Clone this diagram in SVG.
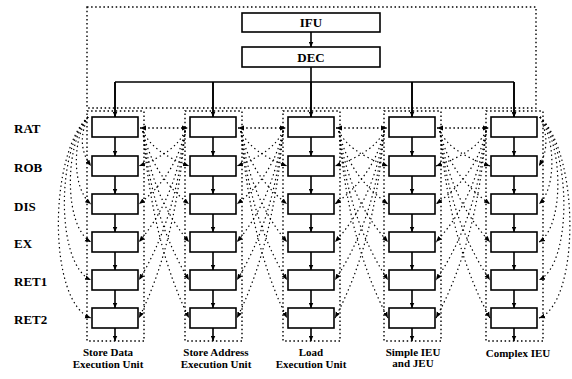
<svg xmlns="http://www.w3.org/2000/svg" width="572" height="379" viewBox="0 0 572 379">
<style>
.box{fill:#fff;stroke:#000;stroke-width:1.6}
.dot{fill:none;stroke:#000;stroke-width:1.4;stroke-dasharray:1.5 2.6}
.sol{fill:none;stroke:#000;stroke-width:1.6}
.fan{fill:none;stroke:#000;stroke-width:1.2;stroke-dasharray:1.4 3}
.t{font-family:"Liberation Serif","Times New Roman",serif;font-weight:bold;fill:#000}
.lbl{font-size:13px}
.bl{font-size:11px;text-anchor:middle}
.ct{font-size:13px;text-anchor:middle}
</style>
<defs>
<marker id="ah" viewBox="0 0 10 10" refX="10" refY="5" markerWidth="5" markerHeight="5" markerUnits="userSpaceOnUse" orient="auto"><path d="M0,0.5 L10,5 L0,9.5 z" fill="#000"/></marker>
<marker id="dh" viewBox="0 0 10 10" refX="10" refY="5" markerWidth="6" markerHeight="6" markerUnits="userSpaceOnUse" orient="auto-start-reverse"><path d="M0,1 L10,5 L0,9 z" fill="#000"/></marker>
</defs>

<!-- frames -->
<g id="frames">
<rect class="dot" x="87" y="7" width="449" height="101"/>
<rect class="dot" x="87" y="111" width="57" height="230"/>
<rect class="dot" x="185" y="111" width="57" height="230"/>
<rect class="dot" x="283" y="111" width="57" height="230"/>
<rect class="dot" x="384" y="111" width="57" height="230"/>
<rect class="dot" x="486" y="111" width="57" height="230"/>
</g>

<g id="ifu"><rect class="box" x="242" y="13" width="138" height="19"/><text class="t ct" x="311" y="27">IFU</text></g>
<g id="dec"><rect class="box" x="242" y="47" width="138" height="20"/><text class="t ct" x="311" y="62">DEC</text></g>

<!-- row labels -->
<g id="rowlabels">
<text class="t lbl" x="14" y="133">RAT</text>
<text class="t lbl" x="14" y="172">ROB</text>
<text class="t lbl" x="14" y="211">DIS</text>
<text class="t lbl" x="14" y="248">EX</text>
<text class="t lbl" x="14" y="286">RET1</text>
<text class="t lbl" x="14" y="324">RET2</text>
</g>

<!-- column 1 -->
<g id="c1-rat"><rect class="box" x="92" y="117" width="46" height="20"/></g>
<g id="c1-rob"><rect class="box" x="92" y="156" width="46" height="20"/></g>
<g id="c1-dis"><rect class="box" x="92" y="194" width="46" height="20"/></g>
<g id="c1-ex"><rect class="box" x="92" y="232" width="46" height="20"/></g>
<g id="c1-ret1"><rect class="box" x="92" y="270" width="46" height="20"/></g>
<g id="c1-ret2"><rect class="box" x="92" y="308" width="46" height="20"/></g>
<!-- column 2 -->
<g id="c2-rat"><rect class="box" x="190" y="117" width="46" height="20"/></g>
<g id="c2-rob"><rect class="box" x="190" y="156" width="46" height="20"/></g>
<g id="c2-dis"><rect class="box" x="190" y="194" width="46" height="20"/></g>
<g id="c2-ex"><rect class="box" x="190" y="232" width="46" height="20"/></g>
<g id="c2-ret1"><rect class="box" x="190" y="270" width="46" height="20"/></g>
<g id="c2-ret2"><rect class="box" x="190" y="308" width="46" height="20"/></g>
<!-- column 3 -->
<g id="c3-rat"><rect class="box" x="288" y="117" width="46" height="20"/></g>
<g id="c3-rob"><rect class="box" x="288" y="156" width="46" height="20"/></g>
<g id="c3-dis"><rect class="box" x="288" y="194" width="46" height="20"/></g>
<g id="c3-ex"><rect class="box" x="288" y="232" width="46" height="20"/></g>
<g id="c3-ret1"><rect class="box" x="288" y="270" width="46" height="20"/></g>
<g id="c3-ret2"><rect class="box" x="288" y="308" width="46" height="20"/></g>
<!-- column 4 -->
<g id="c4-rat"><rect class="box" x="389" y="117" width="46" height="20"/></g>
<g id="c4-rob"><rect class="box" x="389" y="156" width="46" height="20"/></g>
<g id="c4-dis"><rect class="box" x="389" y="194" width="46" height="20"/></g>
<g id="c4-ex"><rect class="box" x="389" y="232" width="46" height="20"/></g>
<g id="c4-ret1"><rect class="box" x="389" y="270" width="46" height="20"/></g>
<g id="c4-ret2"><rect class="box" x="389" y="308" width="46" height="20"/></g>
<!-- column 5 -->
<g id="c5-rat"><rect class="box" x="491" y="117" width="46" height="20"/></g>
<g id="c5-rob"><rect class="box" x="491" y="156" width="46" height="20"/></g>
<g id="c5-dis"><rect class="box" x="491" y="194" width="46" height="20"/></g>
<g id="c5-ex"><rect class="box" x="491" y="232" width="46" height="20"/></g>
<g id="c5-ret1"><rect class="box" x="491" y="270" width="46" height="20"/></g>
<g id="c5-ret2"><rect class="box" x="491" y="308" width="46" height="20"/></g>

<g id="connectors">
<!-- solid -->
<path class="sol" d="M311,32 V47" marker-end="url(#ah)"/>
<path class="sol" d="M311,67 V82 M115,82 H514"/>
<path class="sol" d="M115,82 V117 M213,82 V117 M311,82 V117 M412,82 V117 M514,82 V117" marker-end="url(#ah)"/>
<path class="sol" d="M115,82 V117" marker-end="url(#ah)"/>
<path class="sol" d="M213,82 V117" marker-end="url(#ah)"/>
<path class="sol" d="M311,82 V117" marker-end="url(#ah)"/>
<path class="sol" d="M412,82 V117" marker-end="url(#ah)"/>
<path class="sol" d="M514,82 V117" marker-end="url(#ah)"/>
<g id="vert">
<path class="sol" d="M115,137 V156" marker-end="url(#ah)"/><path class="sol" d="M115,176 V194" marker-end="url(#ah)"/><path class="sol" d="M115,214 V232" marker-end="url(#ah)"/><path class="sol" d="M115,252 V270" marker-end="url(#ah)"/><path class="sol" d="M115,290 V308" marker-end="url(#ah)"/><path class="sol" d="M115,328 V341" marker-end="url(#ah)"/>
<path class="sol" d="M213,137 V156" marker-end="url(#ah)"/><path class="sol" d="M213,176 V194" marker-end="url(#ah)"/><path class="sol" d="M213,214 V232" marker-end="url(#ah)"/><path class="sol" d="M213,252 V270" marker-end="url(#ah)"/><path class="sol" d="M213,290 V308" marker-end="url(#ah)"/><path class="sol" d="M213,328 V341" marker-end="url(#ah)"/>
<path class="sol" d="M311,137 V156" marker-end="url(#ah)"/><path class="sol" d="M311,176 V194" marker-end="url(#ah)"/><path class="sol" d="M311,214 V232" marker-end="url(#ah)"/><path class="sol" d="M311,252 V270" marker-end="url(#ah)"/><path class="sol" d="M311,290 V308" marker-end="url(#ah)"/><path class="sol" d="M311,328 V341" marker-end="url(#ah)"/>
<path class="sol" d="M412,137 V156" marker-end="url(#ah)"/><path class="sol" d="M412,176 V194" marker-end="url(#ah)"/><path class="sol" d="M412,214 V232" marker-end="url(#ah)"/><path class="sol" d="M412,252 V270" marker-end="url(#ah)"/><path class="sol" d="M412,290 V308" marker-end="url(#ah)"/><path class="sol" d="M412,328 V341" marker-end="url(#ah)"/>
<path class="sol" d="M514,137 V156" marker-end="url(#ah)"/><path class="sol" d="M514,176 V194" marker-end="url(#ah)"/><path class="sol" d="M514,214 V232" marker-end="url(#ah)"/><path class="sol" d="M514,252 V270" marker-end="url(#ah)"/><path class="sol" d="M514,290 V308" marker-end="url(#ah)"/><path class="sol" d="M514,328 V341" marker-end="url(#ah)"/>
</g>

<!-- left arcs of column 1 -->
<g id="leftarcs">
<path class="fan" d="M88,117 C80,135 80,151 91,166" marker-end="url(#dh)"/>
<path class="fan" d="M88,117 C72,140 72,189 91,204" marker-end="url(#dh)"/>
<path class="fan" d="M88,117 C64,145 64,227 91,242" marker-end="url(#dh)"/>
<path class="fan" d="M88,117 C56,150 56,265 91,280" marker-end="url(#dh)"/>
<path class="fan" d="M88,117 C48,155 48,303 91,318" marker-end="url(#dh)"/>
</g>
<!-- right arcs of column 5 -->
<g id="rightarcs">
<path class="fan" d="M540,117 C548,135 548,151 539,166" marker-end="url(#dh)"/>
<path class="fan" d="M540,117 C556,140 556,189 539,204" marker-end="url(#dh)"/>
<path class="fan" d="M540,117 C564,145 564,227 539,242" marker-end="url(#dh)"/>
<path class="fan" d="M540,117 C572,150 572,265 539,280" marker-end="url(#dh)"/>
<path class="fan" d="M540,117 C580,155 580,303 539,318" marker-end="url(#dh)"/>
</g>

<!-- gap fans -->
<g id="gap1">
<path class="dot" d="M140,128 H188" marker-start="url(#dh)" marker-end="url(#dh)"/>
<path class="fan" d="M143,131 Q152,152 189,166" marker-end="url(#dh)"/>
<path class="fan" d="M143,131 Q152,175 189,204" marker-end="url(#dh)"/>
<path class="fan" d="M143,131 Q152,198 189,242" marker-end="url(#dh)"/>
<path class="fan" d="M143,131 Q152,220 189,280" marker-end="url(#dh)"/>
<path class="fan" d="M143,131 Q152,243 189,318" marker-end="url(#dh)"/>
<path class="fan" d="M185,131 Q176,152 139,166" marker-end="url(#dh)"/>
<path class="fan" d="M185,131 Q176,175 139,204" marker-end="url(#dh)"/>
<path class="fan" d="M185,131 Q176,198 139,242" marker-end="url(#dh)"/>
<path class="fan" d="M185,131 Q176,220 139,280" marker-end="url(#dh)"/>
<path class="fan" d="M185,131 Q176,243 139,318" marker-end="url(#dh)"/>
</g>
<g id="gap2">
<path class="dot" d="M238,128 H286" marker-start="url(#dh)" marker-end="url(#dh)"/>
<path class="fan" d="M241,131 Q250,152 287,166" marker-end="url(#dh)"/>
<path class="fan" d="M241,131 Q250,175 287,204" marker-end="url(#dh)"/>
<path class="fan" d="M241,131 Q250,198 287,242" marker-end="url(#dh)"/>
<path class="fan" d="M241,131 Q250,220 287,280" marker-end="url(#dh)"/>
<path class="fan" d="M241,131 Q250,243 287,318" marker-end="url(#dh)"/>
<path class="fan" d="M283,131 Q274,152 237,166" marker-end="url(#dh)"/>
<path class="fan" d="M283,131 Q274,175 237,204" marker-end="url(#dh)"/>
<path class="fan" d="M283,131 Q274,198 237,242" marker-end="url(#dh)"/>
<path class="fan" d="M283,131 Q274,220 237,280" marker-end="url(#dh)"/>
<path class="fan" d="M283,131 Q274,243 237,318" marker-end="url(#dh)"/>
</g>
<g id="gap3">
<path class="dot" d="M336,128 H387" marker-start="url(#dh)" marker-end="url(#dh)"/>
<path class="fan" d="M339,131 Q348,152 388,166" marker-end="url(#dh)"/>
<path class="fan" d="M339,131 Q348,175 388,204" marker-end="url(#dh)"/>
<path class="fan" d="M339,131 Q348,198 388,242" marker-end="url(#dh)"/>
<path class="fan" d="M339,131 Q348,220 388,280" marker-end="url(#dh)"/>
<path class="fan" d="M339,131 Q348,243 388,318" marker-end="url(#dh)"/>
<path class="fan" d="M384,131 Q375,152 335,166" marker-end="url(#dh)"/>
<path class="fan" d="M384,131 Q375,175 335,204" marker-end="url(#dh)"/>
<path class="fan" d="M384,131 Q375,198 335,242" marker-end="url(#dh)"/>
<path class="fan" d="M384,131 Q375,220 335,280" marker-end="url(#dh)"/>
<path class="fan" d="M384,131 Q375,243 335,318" marker-end="url(#dh)"/>
</g>
<g id="gap4">
<path class="dot" d="M437,128 H489" marker-start="url(#dh)" marker-end="url(#dh)"/>
<path class="fan" d="M440,131 Q449,152 490,166" marker-end="url(#dh)"/>
<path class="fan" d="M440,131 Q449,175 490,204" marker-end="url(#dh)"/>
<path class="fan" d="M440,131 Q449,198 490,242" marker-end="url(#dh)"/>
<path class="fan" d="M440,131 Q449,220 490,280" marker-end="url(#dh)"/>
<path class="fan" d="M440,131 Q449,243 490,318" marker-end="url(#dh)"/>
<path class="fan" d="M486,131 Q477,152 436,166" marker-end="url(#dh)"/>
<path class="fan" d="M486,131 Q477,175 436,204" marker-end="url(#dh)"/>
<path class="fan" d="M486,131 Q477,198 436,242" marker-end="url(#dh)"/>
<path class="fan" d="M486,131 Q477,220 436,280" marker-end="url(#dh)"/>
<path class="fan" d="M486,131 Q477,243 436,318" marker-end="url(#dh)"/>
</g>
</g>

<!-- bottom labels -->
<g id="unitlabels">
<text class="t bl" x="108" y="356">Store Data</text>
<text class="t bl" x="108" y="368">Execution Unit</text>
<text class="t bl" x="216" y="356">Store Address</text>
<text class="t bl" x="216" y="368">Execution Unit</text>
<text class="t bl" x="311" y="356">Load</text>
<text class="t bl" x="311" y="368">Execution Unit</text>
<text class="t bl" x="413" y="356">Simple IEU</text>
<text class="t bl" x="413" y="367">and JEU</text>
<text class="t bl" x="518" y="357">Complex IEU</text>
</g>
</svg>
